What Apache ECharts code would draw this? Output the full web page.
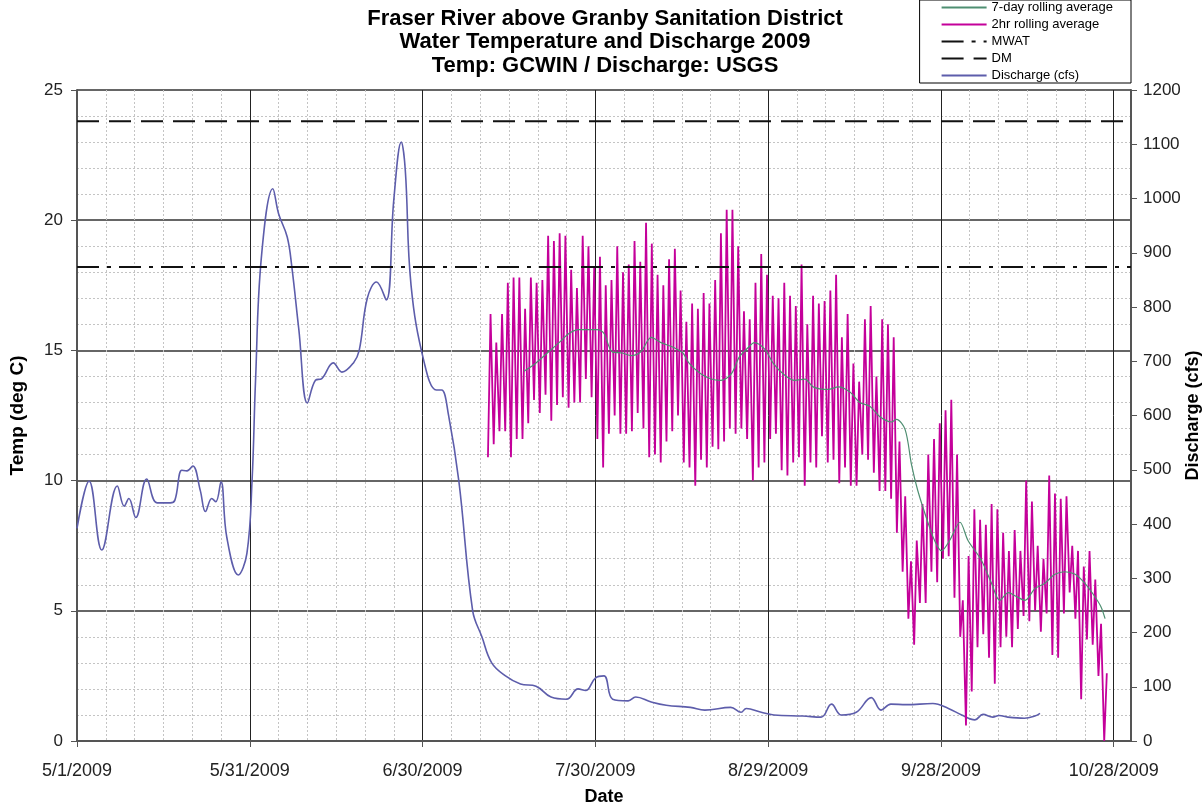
<!DOCTYPE html>
<html><head><meta charset="utf-8">
<script src="https://cdn.jsdelivr.net/npm/echarts@6/dist/echarts.min.js"></script>
<style>html,body{margin:0;padding:0;background:#fff}#c{width:1203px;height:810px}</style>
</head><body><div id="c"></div><script>
// ---------- data ----------
const titleText = 'Fraser River above Granby Sanitation District\nWater Temperature and Discharge 2009\nTemp: GCWIN / Discharge: USGS';
const startUTC = Date.UTC(2009, 4, 1);      // day 0 = 5/1/2009
const xMaxDay = 183;
const MWAT = 18.2;
const DM = 23.8;

// Discharge (cfs): day offset from 5/1/2009 and value
const dischargeDay = [0,2.1,4.3,7,8.2,9,10.2,12.1,13.9,16.2,17,18.2,19.1,20.1,21.4,22.3,23.4,24.1,25,26,28,29.5,30.4,31,32,34,35,36.5,37.3,38.5,40,41.4,42.5,44.5,46,48,49,50.4,52,53.7,55,56.3,57,58,60.3,62.4,63.3,64.5,66.3,68.7,70.3,72,74.4,77,79.7,82.3,85,87,88.3,90,91.5,93,95.7,97,99.7,102.3,106.5,109,113.5,115.3,116.2,118.8,121,126,129.2,131,132.7,135.3,137.9,139.6,141.3,144,148.6,151.3,153.6,155.9,157.3,159,160.1,161.6,164.5,166.3,167.2];
const dischargeCfs = [392,479,352,470,433,447,412,483,439,439,444,499,498,507,462,423,447,441,478,376,306,346,481,665,890,1018,972,929,874,760,623,665,668,697,680,697,720,816,846,813,997,1104,1052,840,697,647,647,601,479,240,192,144,120,105,101,81,77,96,93,116,120,77,74,81,72,66,62,57,62,53,60,53,48,46,44,68,48,53,80,57,68,67,69,60,48,39,49,44,47,44,42,46,51];

// 2hr rolling average: daily minimum and maximum (deg C), days 71..178
const tempFirstDay = 71;
const dailyMin = [10.9,11.4,11.9,11.9,10.9,11.6,11.6,12.2,13.1,12.6,
  13.3,12.3,12.9,13.2,12.8,13.0,13.0,13.9,13.2,11.6,
  10.5,11.8,12.5,11.8,11.8,11.9,12.6,12.0,10.9,11.0,
  10.7,11.5,11.9,12.5,10.7,10.5,9.8,10.8,10.5,11.3,
  11.2,11.5,12.0,11.8,12.0,11.6,10.0,10.5,10.7,11.6,
  11.8,10.4,10.2,10.7,10.9,9.8,10.7,10.5,11.7,10.7,
  10.8,9.9,10.5,9.8,9.8,11.0,10.8,10.3,9.6,9.6,
  9.3,8.0,6.5,4.7,3.7,5.3,5.3,6.5,6.1,7.0,
  7.1,5.5,4.0,0.6,1.9,3.6,4.1,3.2,2.2,3.6,
  4.0,3.6,4.3,4.8,4.6,5.0,4.2,4.9,3.3,3.2,
  4.9,5.7,4.7,1.6,3.9,3.7,2.5,0.0];
const dailyMax = [16.4,15.3,16.4,17.6,17.8,17.8,16.6,17.8,17.6,17.7,
  19.4,19.2,19.5,19.4,18.1,17.4,19.4,19.0,18.2,18.6,
  17.5,17.7,19.0,18.0,18.3,19.2,18.4,19.9,19.1,17.9,
  17.5,18.5,18.9,17.3,16.1,16.8,16.6,17.2,16.8,17.7,
  19.5,20.4,20.4,19.0,16.5,16.2,17.6,18.7,17.9,17.1,
  17.0,17.6,17.1,16.7,18.3,16.0,17.1,16.8,16.9,17.3,
  17.9,15.5,16.4,14.5,13.8,16.2,16.7,14.0,16.2,16.0,
  15.5,11.5,9.4,6.9,7.7,9.1,11.0,11.6,12.2,12.7,
  13.1,11.0,5.4,7.1,8.9,8.5,8.3,9.1,8.9,8.0,
  7.3,8.1,7.3,10.0,9.2,7.5,7.0,10.2,9.5,9.3,
  9.4,7.5,7.3,6.7,7.3,6.2,4.5,2.6];

// 7-day rolling average (deg C)
const avg7Day = [77.6,79.6,81.9,83.7,85.4,87.1,90.3,91.5,92.9,94.7,96.2,97.9,99.7,101.4,103.7,105.2,106.3,108.3,110.1,111.8,113.6,115.0,116.5,117.6,119.4,120.9,122.6,124.6,126.4,127.8,130.4,132.2,134.2,135.9,137.7,139.4,141.4,142.3,143.8,144.9,146.0,147.8,148.9,150.1,151.5,153.3,154.7,157.0,158.8,160.2,161.7,163.1,164.6,166.3,168.0,169.8,171.5,173.3,175.0,176.7,177.8,178.5];
const avg7Val = [14.2,14.5,14.95,15.3,15.65,15.8,15.8,15.65,14.95,14.9,14.8,14.95,15.5,15.3,15.1,14.9,14.5,14.1,13.9,13.85,14.1,14.75,15.1,15.3,15.05,14.5,14.1,13.85,13.9,13.6,13.5,13.6,13.4,13.0,12.85,12.45,12.25,12.35,11.95,10.6,9.6,8.35,7.7,7.3,7.7,8.4,7.7,6.95,6.05,5.4,5.7,5.55,5.4,5.85,6.05,6.4,6.5,6.4,6.05,5.55,5.15,4.7];

// ---------- build series data ----------
const dischargeData = dischargeDay.map((d, i) => [d, dischargeCfs[i]]);
const temp2hrData = [];
dailyMin.forEach((mn, i) => {
  const d = tempFirstDay + i;
  temp2hrData.push([d + 0.35, mn]);
  temp2hrData.push([d + 0.8, dailyMax[i]]);
});
const avg7Data = avg7Day.map((d, i) => [d, avg7Val[i]]);

function fmtDay(v) {
  const dt = new Date(startUTC + v * 86400000);
  return (dt.getUTCMonth() + 1) + '/' + dt.getUTCDate() + '/' + dt.getUTCFullYear();
}

const FONT = '"Liberation Sans", Arial, sans-serif';
const chart = echarts.init(document.getElementById('c'), null, {renderer: 'canvas'});
chart.setOption({
  animation: false,
  backgroundColor: '#fff',
  textStyle: {fontFamily: FONT},
  title: {
    text: titleText, left: 605, top: 7, textAlign: 'center', padding: 0,
    textStyle: {fontFamily: FONT, fontSize: 22, fontWeight: 'bold', color: '#000', lineHeight: 23.5}
  },
  legend: {
    orient: 'vertical', right: 72, top: 0,
    data: ['7-day rolling average', '2hr rolling average', 'MWAT', 'DM', 'Discharge (cfs)'],
    itemWidth: 45, itemHeight: 12, itemGap: 4,
    padding: [1, 18, 1, 21],
    itemStyle: {opacity: 0},
    borderColor: '#000', borderWidth: 1, backgroundColor: '#fff',
    textStyle: {fontFamily: FONT, fontSize: 13, color: '#000'}
  },
  grid: {left: 77, right: 72, top: 90, bottom: 69, show: true, borderColor: '#a0a0a0', borderWidth: 1,
    containLabel: false, outerBoundsMode: 'none'},
  xAxis: {
    type: 'value', min: 0, max: xMaxDay, interval: 30,
    name: 'Date', nameLocation: 'middle', nameGap: 47, nameMoveOverlap: false,
    nameTextStyle: {fontFamily: FONT, fontSize: 18, fontWeight: 'bold', color: '#000'},
    axisLine: {show: true, onZero: false, lineStyle: {color: '#555', width: 2}},
    axisTick: {show: true, length: 6, lineStyle: {color: '#555', width: 1}},
    minorTick: {show: false, splitNumber: 6},
    axisLabel: {margin: 21, fontSize: 18, color: '#222', fontFamily: FONT, showMaxLabel: false,
      formatter: v => (v % 30 === 0 ? fmtDay(v) : '')},
    splitLine: {show: true, lineStyle: {color: '#222', width: 1}},
    minorSplitLine: {show: true, lineStyle: {color: '#c4c4c4', width: 1, type: [2, 2]}}
  },
  yAxis: [{
    type: 'value', min: 0, max: 25, interval: 5,
    name: 'Temp (deg C)', nameLocation: 'middle', nameGap: 50, nameRotate: 90, nameMoveOverlap: false,
    nameTextStyle: {fontFamily: FONT, fontSize: 19, fontWeight: 'bold', color: '#000'},
    axisLine: {show: true, lineStyle: {color: '#555', width: 2}},
    axisTick: {show: true, length: 6, lineStyle: {color: '#555'}},
    minorTick: {show: false, splitNumber: 5},
    axisLabel: {margin: 14, fontSize: 17, color: '#222', fontFamily: FONT},
    splitLine: {show: true, lineStyle: {color: '#666', width: 2}},
    minorSplitLine: {show: true, lineStyle: {color: '#c4c4c4', width: 1, type: [2, 2]}}
  }, {
    type: 'value', min: 0, max: 1200, interval: 100, position: 'right',
    name: 'Discharge (cfs)', nameLocation: 'middle', nameGap: 53, nameRotate: 90, nameMoveOverlap: false,
    nameTextStyle: {fontFamily: FONT, fontSize: 18, fontWeight: 'bold', color: '#000'},
    axisLine: {show: true, lineStyle: {color: '#555', width: 2}},
    axisTick: {show: true, length: 6, lineStyle: {color: '#555'}},
    axisLabel: {margin: 12, fontSize: 17, color: '#222', fontFamily: FONT, formatter: v => String(v)},
    splitLine: {show: false}
  }],
  series: [{
    name: 'Discharge (cfs)', type: 'line', yAxisIndex: 1, data: dischargeData,
    smooth: 0.4, symbol: 'none', lineStyle: {color: '#5d5dab', width: 1.6}, itemStyle: {color: '#2a2a8a'}, z: 2
  }, {
    name: '2hr rolling average', type: 'line', data: temp2hrData,
    symbol: 'none', lineStyle: {color: '#c4009a', width: 1.8}, itemStyle: {color: '#c8009c'}, z: 3
  }, {
    name: '7-day rolling average', type: 'line', data: avg7Data, smooth: 0.3,
    symbol: 'none', lineStyle: {color: '#4f8f72', width: 1.2}, itemStyle: {color: '#3a9a70'}, z: 4
  }, {
    name: 'MWAT', type: 'line', data: [[0, MWAT], [xMaxDay, MWAT]],
    symbol: 'none', lineStyle: {color: '#111', width: 2, type: [22, 8, 4, 8]}, itemStyle: {color: '#111'}, z: 5
  }, {
    name: 'DM', type: 'line', data: [[0, DM], [xMaxDay, DM]],
    symbol: 'none', lineStyle: {color: '#111', width: 2, type: [22, 10]}, itemStyle: {color: '#111'}, z: 5
  }]
});
</script></body></html>
